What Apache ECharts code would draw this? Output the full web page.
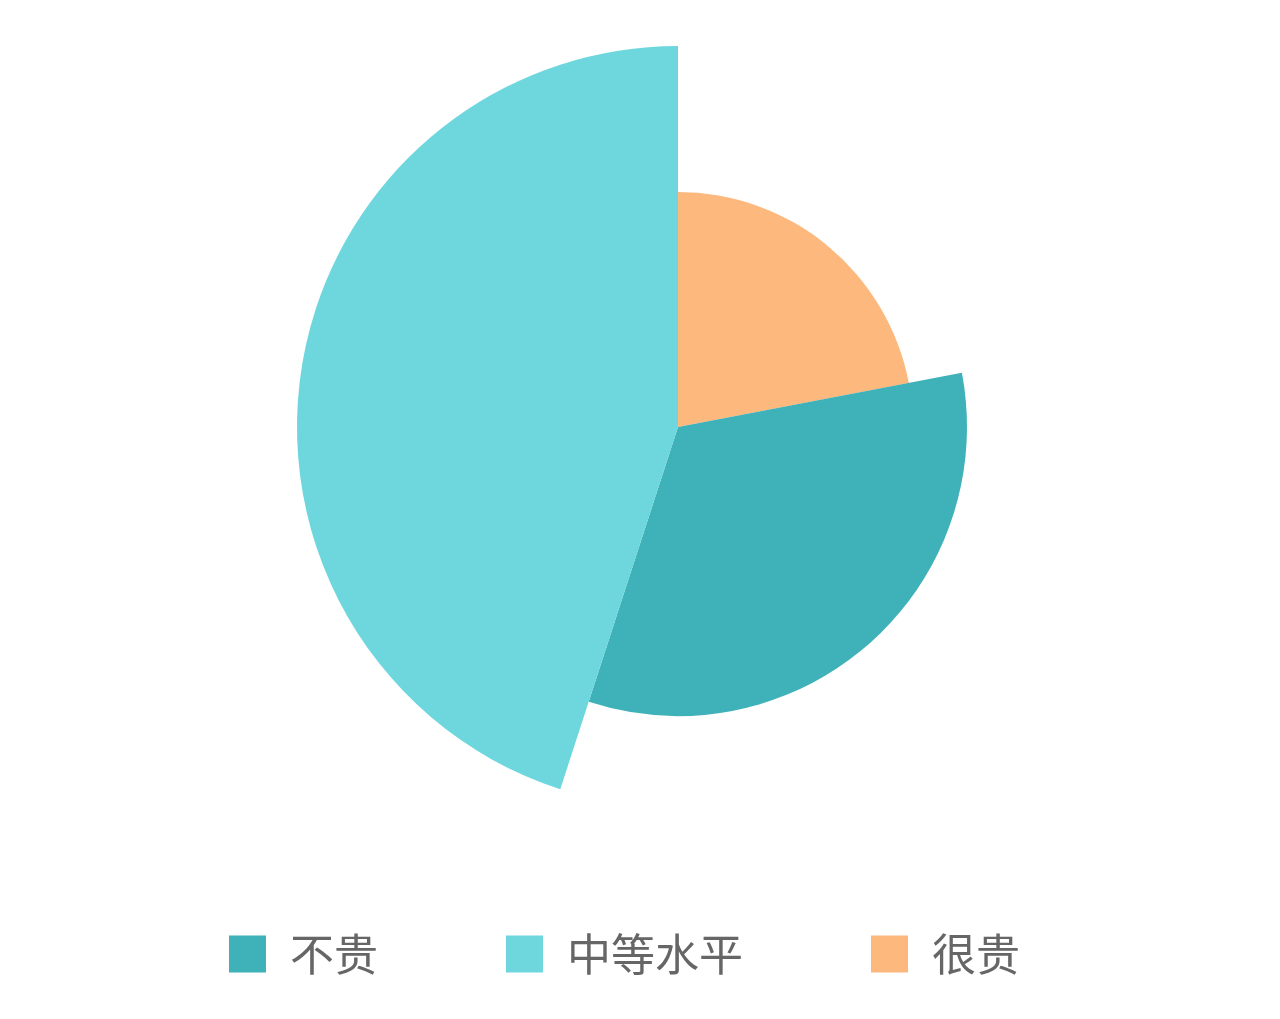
<!DOCTYPE html>
<html>
<head>
<meta charset="utf-8">
<title>价格感受</title>
<script src="https://cdn.jsdelivr.net/npm/echarts@6/dist/echarts.min.js"></script>
<style>
  html, body { margin: 0; padding: 0; background: #fff; }
  #chart { width: 1280px; height: 1019px; }
</style>
</head>
<body>
<div id="chart"></div>
<script>
// data, in clockwise order from 12 o'clock
var categories = ['很贵', '不贵', '中等水平'];
var shares = [22, 33, 45];
var legendOrder = ['不贵', '中等水平', '很贵'];

// look
var colors = { '不贵': '#3eb1b9', '中等水平': '#6dd7dd', '很贵': '#fdb87e' };
var outerRadius = { '很贵': 235, '不贵': 289, '中等水平': 381 };
var center = [678, 427];

var chart = echarts.init(document.getElementById('chart'));

// one pie per slice so each slice can have its own radius;
// every pie carries all values so the angles stay the same
var series = categories.map(function (owner) {
  return {
    name: owner,
    type: 'pie',
    center: center,
    radius: [0, outerRadius[owner]],
    startAngle: 90,
    clockwise: true,
    label: { show: false },
    labelLine: { show: false },
    data: categories.map(function (name, i) {
      var item = { name: name, value: shares[i] };
      if (name === owner) {
        item.itemStyle = { color: colors[name] };
      } else {
        item.itemStyle = { color: 'rgba(0,0,0,0)' };
        item.emphasis = { disabled: true };
        item.tooltip = { show: false };
      }
      return item;
    })
  };
});

var option = {
  backgroundColor: '#fff',
  animation: false,
  tooltip: { trigger: 'item' },
  legend: {
    left: 224,
    top: 927,
    itemWidth: 37,
    itemHeight: 37,
    itemGap: 128,
    icon: 'rect',
    textStyle: {
      fontSize: 44,
      color: '#666',
      fontFamily: 'Noto Sans CJK SC',
      padding: [0, 0, 0, 19]
    },
    data: legendOrder.map(function (name) {
      return { name: name, itemStyle: { color: colors[name], opacity: 1 } };
    })
  },
  series: series
};

chart.setOption(option);
</script>
</body>
</html>
